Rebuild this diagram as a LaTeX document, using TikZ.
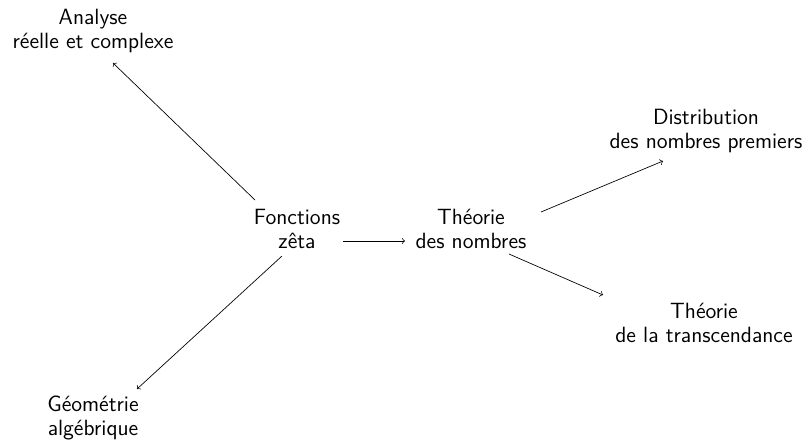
\documentclass[tikz,border=0pt]{standalone}
\usepackage{amsmath}
\usepackage{amssymb}
\usepackage{tikz}

\tikzset{
  domaine/.style={align=center, inner sep=0pt, font=\sffamily\fontsize{12.9}{13.6}\selectfont},
  lien/.style={->}
}

\begin{document}
\begin{tikzpicture}[x=0.02055cm, y=-0.02055cm]
  \useasboundingbox (0,0) rectangle (809,439);

  \node[domaine] (fz) at (297,229) {Fonctions\\z\^eta};
  \node[domaine] (tn) at (471,229) {Th\'eorie\\des nombres};
  \node[domaine] (an) at (93,31) {Analyse\\r\'eelle et complexe};
  \node[domaine] (ge) at (93,418) {G\'eom\'etrie\\alg\'ebrique};
  \node[domaine] (di) at (706,131) {Distribution\\des nombres premiers};
  \node[domaine] (tr) at (704,323) {Th\'eorie\\de la transcendance};

  \draw[lien] ([shift={(-42,-29)}]fz.center) -- ([shift={(20,32)}]an.center);
  \draw[lien] ([shift={(-15,27)}]fz.center) -- ([shift={(44,-29)}]ge.center);
  \draw[lien] ([shift={(46,12)}]fz.center) -- ([shift={(-66,12)}]tn.center);
  \draw[lien] ([shift={(70,-17)}]tn.center) -- ([shift={(-43,30)}]di.center);
  \draw[lien] ([shift={(38,25)}]tn.center) -- ([shift={(-101,-28)}]tr.center);
\end{tikzpicture}
\end{document}
